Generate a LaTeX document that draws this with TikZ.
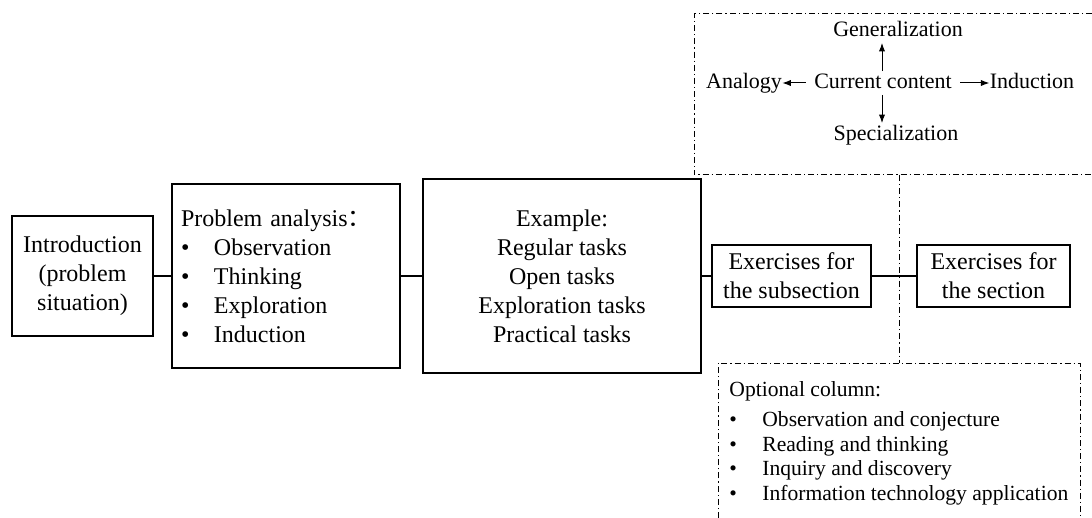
\documentclass[tikz,border=0pt]{standalone}
\usepackage{fontspec}
\setmainfont{Liberation Serif}
\newfontfamily\cjk{Noto Sans CJK SC}
\usetikzlibrary{arrows.meta}
\newcommand{\flowarrowstyle}{-{Latex[length=1.5mm,width=1.1mm]}}
\newcommand{\bulitem}[1]{\makebox[16.5pt][l]{\textbullet}#1}
\newcommand{\optitem}[1]{\makebox[16.5pt][l]{\textbullet}#1}

\begin{document}
\begin{tikzpicture}[
    x=0.5pt, y=-0.5pt,
    font=\fontsize{12}{14.5}\selectfont,
    stage/.style={draw, line width=0.6pt, inner sep=0pt, align=center},
    link/.style={line width=0.6pt},
    zone/.style={line width=0.5pt, dash pattern=on 3pt off 1.5pt on 0.6pt off 1.5pt},
    idea/.style={font=\fontsize{11}{13}\selectfont, inner xsep=0pt, inner ysep=1pt,
                 text height=7.5pt, text depth=2pt},
    flow/.style={\flowarrowstyle, line width=0.5pt}
]
  \useasboundingbox (0,0) rectangle (1092,518);

  % main chain
  \node[stage, minimum width=70.5pt, minimum height=60pt] (intro) at (82.5,276)
    {Introduction\\(problem\\situation)};
  \node[stage, minimum width=114pt, minimum height=92pt, align=left,
        text width=105pt] (analysis) at (286,276)
    {Problem analysis{\cjk ：}\\ \bulitem{Observation}\\ \bulitem{Thinking}\\
     \bulitem{Exploration}\\ \bulitem{Induction}};
  \node[stage, minimum width=139pt, minimum height=97pt] (example) at (562,276)
    {Example:\\Regular tasks\\Open tasks\\Exploration tasks\\Practical tasks};
  \node[stage, minimum width=79.5pt, minimum height=31pt] (subex) at (791.5,276)
    {Exercises for\\the subsection};
  \node[stage, minimum width=76.5pt, minimum height=31pt] (secex) at (993.5,276)
    {Exercises for\\the section};

  \draw[link] (intro.east) -- (analysis.west);
  \draw[link] (analysis.east) -- (example.west);
  \draw[link] (example.east) -- (subex.west);
  \draw[link] (subex.east) -- (secex.west);

  % thinking methods
  \draw[zone] (1092,14) -- (694,14) -- (694,175) -- (1092,175);
  \node[idea, inner xsep=4pt] (current) at (883,83) {Current content};
  \node[idea] (general) at (898,31) {Generalization};
  \node[idea] (special) at (896,135) {Specialization};
  \node[idea] (analogy) at (744,83) {Analogy};
  \node[idea] (induct) at (1032,83) {Induction};

  \draw[flow] (current.north -| 882,0) -- (general.south -| 882,0);
  \draw[flow] (current.south -| 882,0) -- (special.north -| 882,0);
  \draw[flow] (current.west) -- (analogy.east);
  \draw[flow] (current.east) -- (induct.west);

  % optional column
  \coordinate (split-top) at (899,175);
  \coordinate (split-bot) at (899,363);
  \draw[zone] (split-top) -- (split-bot);
  \draw[zone] (718,518) -- (718,363) -- (1080,363) -- (1080,518);
  \node[anchor=base west, inner sep=0pt, align=left,
        font=\fontsize{10.8}{12.2}\selectfont] (optional) at (729,500)
    {Optional column:\\[2.8pt] \optitem{Observation and conjecture}\\
     \optitem{Reading and thinking}\\ \optitem{Inquiry and discovery}\\
     \optitem{Information technology application}};
\end{tikzpicture}
\end{document}
